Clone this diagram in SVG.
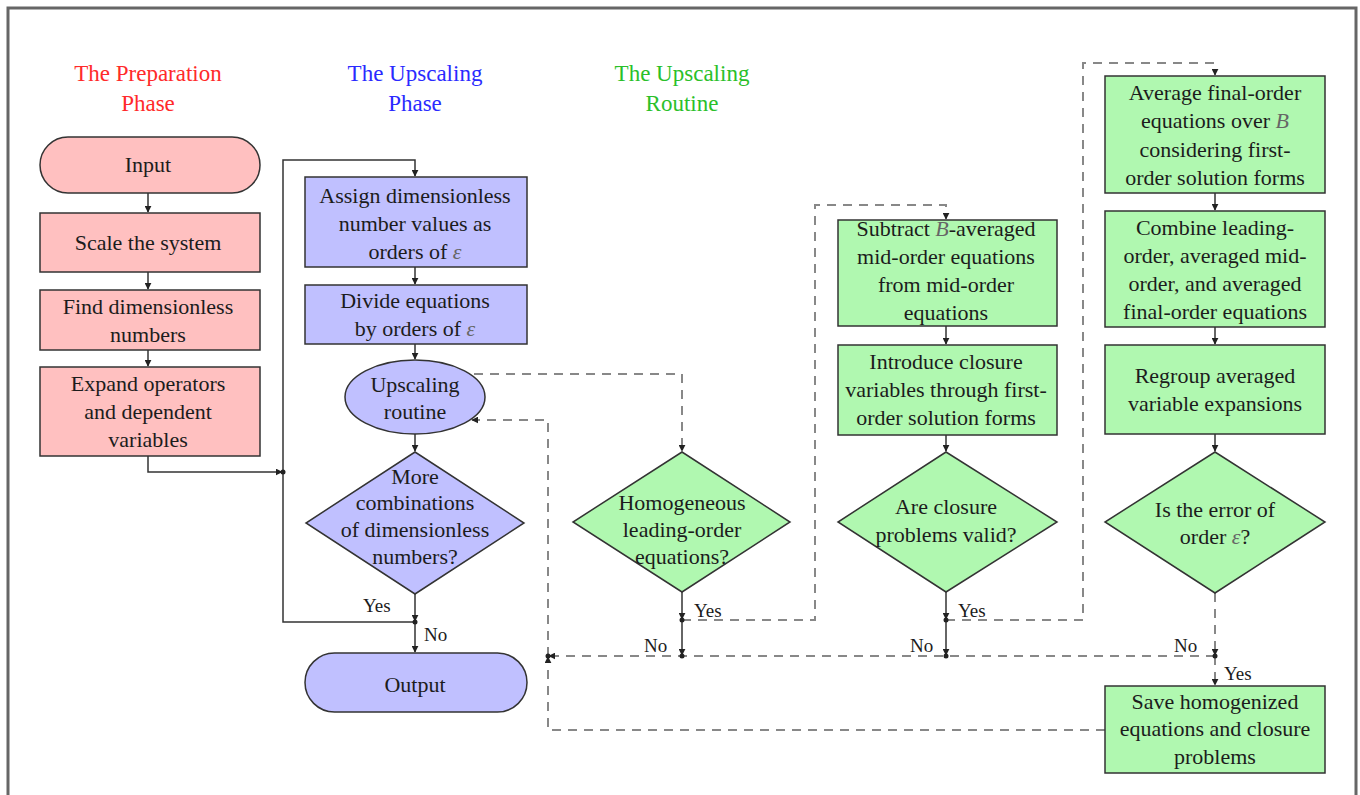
<svg xmlns="http://www.w3.org/2000/svg" width="1360" height="795" viewBox="0 0 1360 795" font-family="'Liberation Serif', 'DejaVu Serif', serif">
<defs>
<marker id="ah" viewBox="0 0 10 10" refX="9" refY="5" markerWidth="7" markerHeight="7" orient="auto" markerUnits="userSpaceOnUse"><path d="M0,0 L10,5 L0,10 z" fill="#222"/></marker>
<style>
text{fill:#1c1c1c;text-anchor:middle}
.t{font-size:22px}
.lbl{font-size:19px;text-anchor:start}
.ttl{font-size:23px}
.pink{fill:#ffc0c0;stroke:#333;stroke-width:1.5}
.blue{fill:#c0c0ff;stroke:#333;stroke-width:1.5}
.green{fill:#b0f8b0;stroke:#333;stroke-width:1.5}
.s{fill:none;stroke:#333;stroke-width:1.5}
.d{fill:none;stroke:#888;stroke-width:2;stroke-dasharray:9 7}
.m{font-style:italic;fill:#666}
</style>
</defs>
<rect width="1360" height="795" fill="#fff"/>
<path d="M8,800 V8 H1356 V800" fill="none" stroke="#666" stroke-width="3"/>

<g id="titles">
<text class="ttl" x="148" y="81" style="fill:#ff2a2a">The Preparation</text>
<text class="ttl" x="148" y="111" style="fill:#ff2a2a">Phase</text>
<text class="ttl" x="415" y="81" style="fill:#2a2aff">The Upscaling</text>
<text class="ttl" x="415" y="111" style="fill:#2a2aff">Phase</text>
<text class="ttl" x="682" y="81" style="fill:#2ac02a">The Upscaling</text>
<text class="ttl" x="682" y="111" style="fill:#2ac02a">Routine</text>
</g>

<g id="connectors">
<path class="s" d="M148,193 V212" marker-end="url(#ah)"/>
<path class="s" d="M148,272 V289" marker-end="url(#ah)"/>
<path class="s" d="M148,350 V366" marker-end="url(#ah)"/>
<path class="s" d="M148,456 V472 H282" marker-end="url(#ah)"/>
<path class="s" d="M415,622 H283 V160 H415 V176" marker-end="url(#ah)"/>
<path class="s" d="M415,267 V284" marker-end="url(#ah)"/>
<path class="s" d="M415,344 V359" marker-end="url(#ah)"/>
<path class="s" d="M415,434 V451" marker-end="url(#ah)"/>
<path class="s" d="M415,594 V621" marker-end="url(#ah)"/>
<path class="s" d="M415,622 V652" marker-end="url(#ah)"/>
<circle cx="415" cy="622" r="2.5" fill="#222"/>
<circle cx="283" cy="472" r="2.5" fill="#222"/>

<path class="s" d="M946,326 V344" marker-end="url(#ah)"/>
<path class="s" d="M946,435 V451" marker-end="url(#ah)"/>
<path class="s" d="M1215,193 V210" marker-end="url(#ah)"/>
<path class="s" d="M1215,327 V344" marker-end="url(#ah)"/>
<path class="s" d="M1215,434 V451" marker-end="url(#ah)"/>

<path class="d" d="M474,374 H682 V451" marker-end="url(#ah)"/>
<path class="s" d="M682,592 V619" marker-end="url(#ah)" stroke="#666"/>
<path class="d" d="M682,620 H815 V205 H946 V219" marker-end="url(#ah)"/>
<path class="s" d="M682,620 V655" marker-end="url(#ah)" stroke="#666"/>
<path class="s" d="M946,592 V619" marker-end="url(#ah)" stroke="#666"/>
<path class="d" d="M946,620 H1083 V63 H1215 V75" marker-end="url(#ah)"/>
<path class="s" d="M946,620 V655" marker-end="url(#ah)" stroke="#666"/>
<path class="d" d="M1215,593 V655" marker-end="url(#ah)"/>
<path class="d" d="M1215,656 V685" marker-end="url(#ah)"/>
<path class="d" d="M1215,656 H549" marker-end="url(#ah)"/>
<path class="d" d="M1105,730 H548 V657" marker-end="url(#ah)"/>
<path class="d" d="M548,656 V420 H472" marker-end="url(#ah)"/>
<circle cx="682" cy="620" r="2.5" fill="#222"/>
<circle cx="682" cy="656" r="2.5" fill="#222"/>
<circle cx="946" cy="620" r="2.5" fill="#222"/>
<circle cx="946" cy="656" r="2.5" fill="#222"/>
<circle cx="1215" cy="656" r="2.5" fill="#222"/>
<circle cx="548" cy="656" r="2.5" fill="#222"/>

<text class="lbl" x="363" y="612">Yes</text>
<text class="lbl" x="424" y="641">No</text>
<text class="lbl" x="694" y="617">Yes</text>
<text class="lbl" x="644" y="652">No</text>
<text class="lbl" x="958" y="617">Yes</text>
<text class="lbl" x="910" y="652">No</text>
<text class="lbl" x="1174" y="652">No</text>
<text class="lbl" x="1224" y="680">Yes</text>
</g>

<g id="input"><rect class="pink" x="40" y="137" width="220" height="56" rx="28"/><text class="t" x="148" y="172">Input</text></g>
<g id="scale"><rect class="pink" x="40" y="213" width="220" height="59"/><text class="t" x="148" y="250">Scale the system</text></g>
<g id="find"><rect class="pink" x="40" y="290" width="220" height="60"/><text class="t" x="148" y="314">Find dimensionless</text><text class="t" x="148" y="342">numbers</text></g>
<g id="expand"><rect class="pink" x="40" y="367" width="220" height="89"/><text class="t" x="148" y="391">Expand operators</text><text class="t" x="148" y="419">and dependent</text><text class="t" x="148" y="447">variables</text></g>

<g id="assign"><rect class="blue" x="305" y="177" width="222" height="90"/><text class="t" x="415" y="203">Assign dimensionless</text><text class="t" x="415" y="231">number values as</text><text class="t" x="415" y="259">orders of <tspan class="m">ε</tspan></text></g>
<g id="divide"><rect class="blue" x="305" y="285" width="222" height="59"/><text class="t" x="415" y="308">Divide equations</text><text class="t" x="415" y="336">by orders of <tspan class="m">ε</tspan></text></g>
<g id="routine"><ellipse class="blue" cx="415" cy="397" rx="70" ry="37"/><text class="t" x="415" y="392">Upscaling</text><text class="t" x="415" y="419">routine</text></g>
<g id="more"><polygon class="blue" points="415,452 524,523 415,594 306,523"/><text class="t" x="415" y="484">More</text><text class="t" x="415" y="510">combinations</text><text class="t" x="415" y="537">of dimensionless</text><text class="t" x="415" y="564">numbers?</text></g>
<g id="output"><rect class="blue" x="305" y="653" width="222" height="59" rx="29.5"/><text class="t" x="415" y="692">Output</text></g>

<g id="homogeneous"><polygon class="green" points="682,452 790,522 682,592 573,522"/><text class="t" x="682" y="510">Homogeneous</text><text class="t" x="682" y="537">leading-order</text><text class="t" x="682" y="564">equations?</text></g>

<g id="subtract"><rect class="green" x="838" y="220" width="219" height="106"/><text class="t" x="946" y="236">Subtract <tspan class="m">B</tspan>-averaged</text><text class="t" x="946" y="264">mid-order equations</text><text class="t" x="946" y="292">from mid-order</text><text class="t" x="946" y="320">equations</text></g>
<g id="introduce"><rect class="green" x="838" y="345" width="219" height="90"/><text class="t" x="946" y="369">Introduce closure</text><text class="t" x="946" y="397">variables through first-</text><text class="t" x="946" y="425">order solution forms</text></g>
<g id="closure"><polygon class="green" points="946,452 1057,522 946,592 838,522"/><text class="t" x="946" y="514">Are closure</text><text class="t" x="946" y="542">problems valid?</text></g>

<g id="average"><rect class="green" x="1105" y="76" width="220" height="117"/><text class="t" x="1215" y="100">Average final-order</text><text class="t" x="1215" y="128">equations over <tspan class="m">B</tspan></text><text class="t" x="1215" y="157">considering first-</text><text class="t" x="1215" y="185">order solution forms</text></g>
<g id="combine"><rect class="green" x="1105" y="211" width="220" height="116"/><text class="t" x="1215" y="235">Combine leading-</text><text class="t" x="1215" y="263">order, averaged mid-</text><text class="t" x="1215" y="291">order, and averaged</text><text class="t" x="1215" y="319">final-order equations</text></g>
<g id="regroup"><rect class="green" x="1105" y="345" width="220" height="89"/><text class="t" x="1215" y="383">Regroup averaged</text><text class="t" x="1215" y="411">variable expansions</text></g>
<g id="error"><polygon class="green" points="1215,452 1325,522 1215,593 1105,522"/><text class="t" x="1215" y="517">Is the error of</text><text class="t" x="1215" y="544">order <tspan class="m">ε</tspan>?</text></g>
<g id="save"><rect class="green" x="1105" y="686" width="220" height="87"/><text class="t" x="1215" y="709">Save homogenized</text><text class="t" x="1215" y="736">equations and closure</text><text class="t" x="1215" y="764">problems</text></g>
</svg>
